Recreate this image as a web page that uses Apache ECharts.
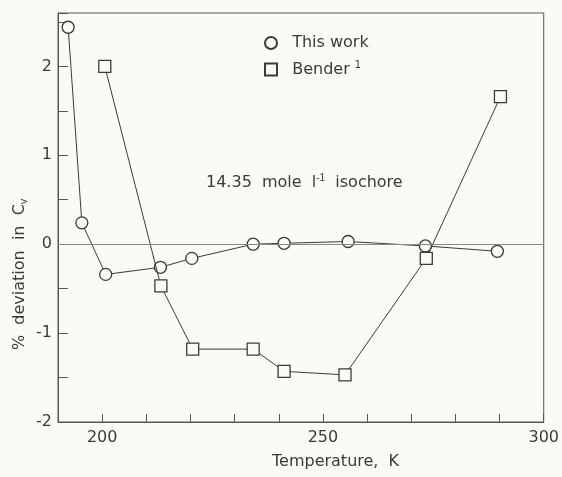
<!DOCTYPE html>
<html>
<head>
    <meta charset="UTF-8">
    <title>Cv deviation</title>
    <script src="https://cdn.jsdelivr.net/npm/echarts@6/dist/echarts.min.js"></script>
    <style>
        html, body { margin: 0; padding: 0; background: #fbfbf5; }
        #chart { width: 562px; height: 477px; }
    </style>
</head>
<body>
    <div id="chart"></div>
    <script>
        // This work (circles)
        const thisWorkT = [192.3, 195.4, 200.8, 213.2, 220.3, 234.2, 241.2, 255.7, 273.2, 289.5];
        const thisWorkDev = [2.44, 0.24, -0.34, -0.26, -0.16, 0.0, 0.01, 0.03, -0.02, -0.08];
        // Bender (squares)
        const benderT = [200.6, 213.3, 220.5, 234.2, 241.2, 255.0, 273.4, 290.2];
        const benderDev = [2.0, -0.47, -1.18, -1.18, -1.43, -1.47, -0.16, 1.66];
        const xLabels = [200, 250, 300];
        const yLabels = [-2, -1, 0, 1, 2];

        const ink = '#3a3a3a';
        const bg = '#fbfbf5';
        const font = 'DejaVu Sans';

        const zip = (a, b) => a.map((v, i) => [v, b[i]]);

        const chart = echarts.init(document.getElementById('chart'));
        chart.setOption({
            backgroundColor: bg,
            animation: false,
            textStyle: { fontFamily: font, color: ink },
            grid: {
                left: 58, right: 7, top: 13, bottom: 55,
                show: true, borderColor: '#555', borderWidth: 1
            },
            legend: {
                orient: 'vertical',
                left: 264, top: 35, padding: 0,
                itemWidth: 12, itemHeight: 12, itemGap: 9,
                textStyle: {
                    fontFamily: font, fontSize: 16, color: ink,
                    rich: { sup: { fontSize: 10, verticalAlign: 'top', padding: [0, 0, 9, 0] } }
                },
                formatter: function (name) {
                    return name === 'Bender' ? '  Bender {sup|1}' : '  ' + name;
                },
                data: [
                    { name: 'This work', icon: 'circle' },
                    { name: 'Bender', icon: 'rect' }
                ]
            },
            xAxis: {
                type: 'value',
                min: 190, max: 300, interval: 10,
                axisLine: { onZero: false, lineStyle: { color: '#555' } },
                axisTick: { inside: true, length: 8, lineStyle: { color: '#555' } },
                splitLine: { show: false },
                axisLabel: {
                    fontFamily: font, fontSize: 16, color: ink, margin: 8,
                    formatter: v => xLabels.includes(v) ? String(v) : ''
                }
            },
            yAxis: {
                type: 'value',
                min: -2, max: 2.6, interval: 0.5,
                axisLine: { onZero: false, lineStyle: { color: '#555' } },
                axisTick: { inside: true, length: 10, lineStyle: { color: '#555' } },
                splitLine: { show: false },
                axisLabel: {
                    fontFamily: font, fontSize: 16, color: ink, margin: 6,
                    formatter: v => yLabels.includes(v) ? String(v) : ''
                }
            },
            graphic: [
                {
                    type: 'text', left: 206, top: 173,
                    style: {
                        text: '14.35  mole  l{sup|-1}  isochore',
                        font: '16px ' + font, fill: ink,
                        rich: { sup: { fontSize: 10, verticalAlign: 'top', padding: [0, 0, 9, 0], fill: ink } }
                    }
                },
                {
                    type: 'text', left: 272, top: 454,
                    style: { text: 'Temperature,  K', font: '16px ' + font, fill: ink }
                },
                {
                    type: 'text', x: 11, y: 350, rotation: Math.PI / 2,
                    style: {
                        text: '%  deviation  in  C{sub|v}',
                        font: '16px ' + font, fill: ink,
                        rich: { sub: { fontSize: 11, verticalAlign: 'bottom', padding: [7, 0, 0, 0], fill: ink } }
                    }
                }
            ],
            series: [
                {
                    name: 'This work',
                    type: 'line',
                    data: zip(thisWorkT, thisWorkDev),
                    symbol: 'circle',
                    symbolSize: 12,
                    z: 3,
                    lineStyle: { color: ink, width: 1 },
                    itemStyle: { color: bg, borderColor: ink, borderWidth: 1.3 },
                    markLine: {
                        silent: true,
                        symbol: 'none',
                        label: { show: false },
                        lineStyle: { color: '#888', width: 1, type: 'solid' },
                        data: [{ yAxis: 0 }]
                    }
                },
                {
                    name: 'Bender',
                    type: 'line',
                    data: zip(benderT, benderDev),
                    symbol: 'rect',
                    symbolSize: 12,
                    z: 4,
                    lineStyle: { color: ink, width: 1 },
                    itemStyle: { color: bg, borderColor: ink, borderWidth: 1.3 }
                }
            ]
        });
    </script>
</body>
</html>
